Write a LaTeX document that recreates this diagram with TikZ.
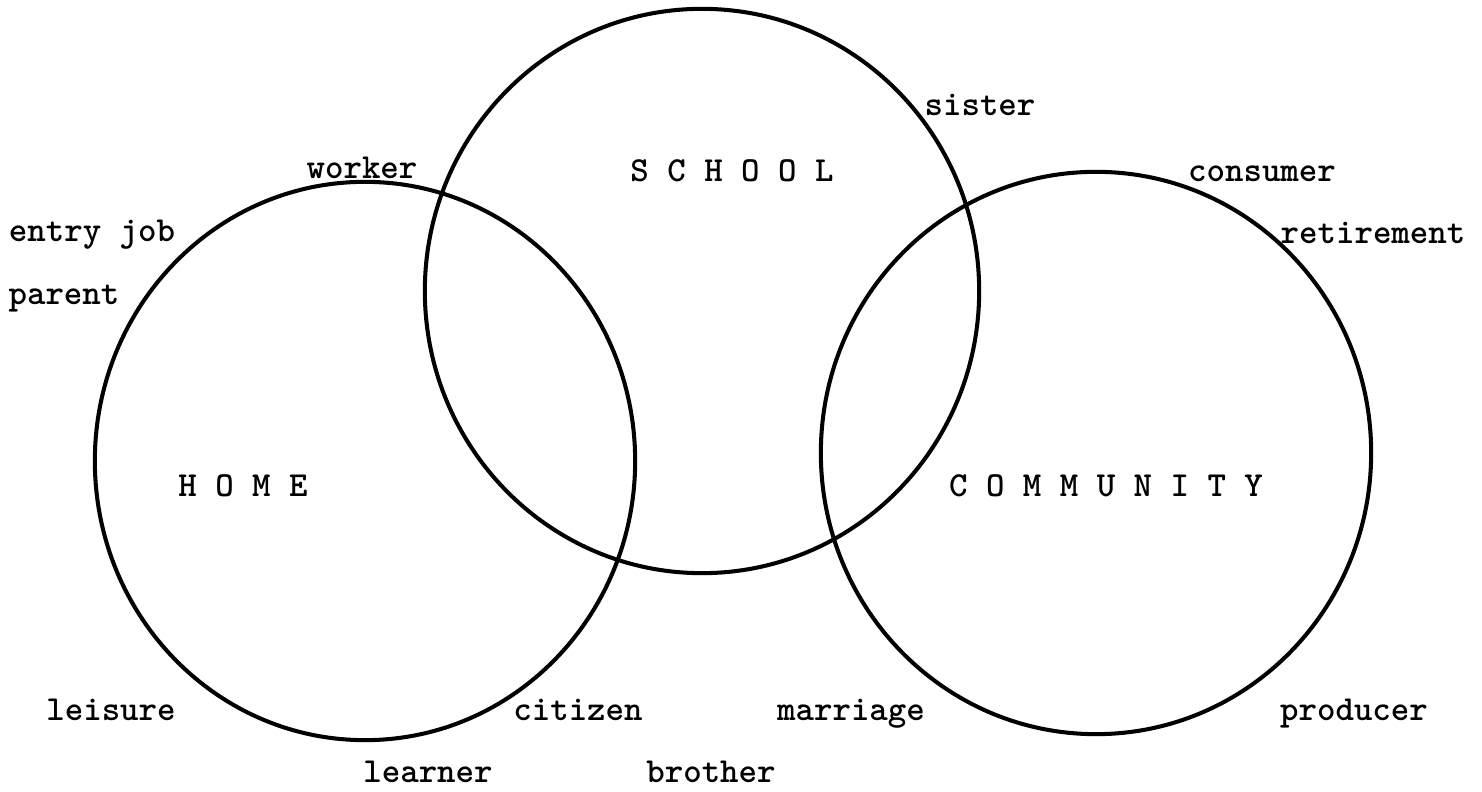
\documentclass[tikz,border=0pt]{standalone}
\usetikzlibrary{shapes.geometric}
\tikzset{
  ring/.style={draw, ellipse, line width=1.15pt, inner sep=0pt},
  word/.style={font=\ttfamily\bfseries\fontsize{10}{12}\selectfont, inner sep=0pt, text height=1.6ex, text depth=0.3ex}
}
\begin{document}
\begin{tikzpicture}[x=0.01cm, y=-0.01cm]
  \useasboundingbox (0,0) rectangle (1482,792);
  \node[ring, minimum width=5.40cm, minimum height=5.58cm] (home) at (365,461) {};
  \node[ring, minimum width=5.54cm, minimum height=5.64cm] (school) at (702,291) {};
  \node[ring, minimum width=5.50cm, minimum height=5.62cm] (community) at (1096,453) {};
  \node[word] (homelbl) at (243,487) {H O M E};
  \node[word] (schoollbl) at (732,172) {S C H O O L};
  \node[word] (communitylbl) at (1106,487) {C O M M U N I T Y};
  \node[word] (worker) at (362,169) {worker};
  \node[word] (sister) at (980,106) {sister};
  \node[word] (consumer) at (1262,172) {consumer};
  \node[word] (entryjob) at (92,232) {entry job};
  \node[word] (retirement) at (1373,234) {retirement};
  \node[word] (parent) at (64,295) {parent};
  \node[word] (leisure) at (111,711) {leisure};
  \node[word] (citizen) at (578,711) {citizen};
  \node[word] (marriage) at (851,711) {marriage};
  \node[word] (producer) at (1354,711) {producer};
  \node[word] (learner) at (428,773) {learner};
  \node[word] (brother) at (711,773) {brother};
\end{tikzpicture}
\end{document}
